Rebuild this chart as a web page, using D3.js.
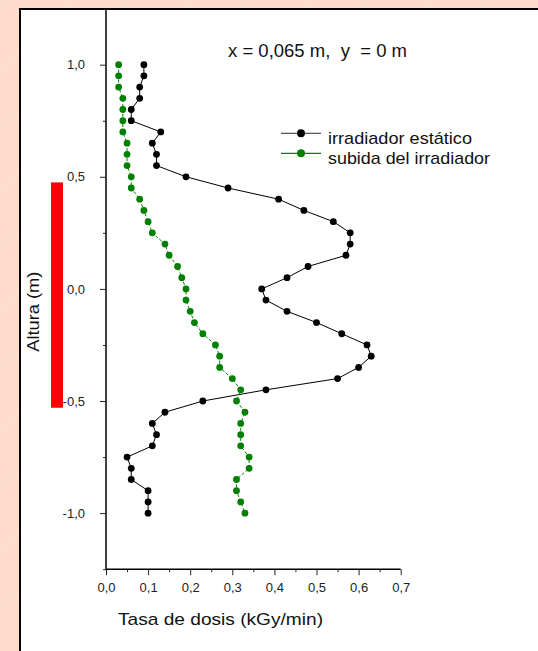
<!DOCTYPE html>
<html>
<head>
<meta charset="utf-8">
<script src="https://cdn.jsdelivr.net/npm/d3@7"></script>
<style>
  html, body { margin: 0; padding: 0; background: #fddccc; }
  svg { display: block; }
  text { font-family: Arial, "Liberation Sans", sans-serif; }
</style>
</head>
<body>
<svg id="chart" width="538" height="651"></svg>
<script>
// ---- data ----
const heights = [1.00,0.95,0.90,0.85,0.80,0.75,0.70,0.65,0.60,0.55,0.50,0.45,0.40,0.35,0.30,0.25,0.20,0.15,0.10,0.05,0.00,
  -0.05,-0.10,-0.15,-0.20,-0.25,-0.30,-0.35,-0.40,-0.45,-0.50,-0.55,-0.60,-0.65,-0.70,-0.75,-0.80,-0.85,-0.90,-0.95,-1.00];
const staticDose = [0.09,0.09,0.08,0.08,0.06,0.06,0.13,0.11,0.12,0.12,0.19,0.29,0.41,0.47,0.54,0.58,0.58,0.57,0.48,0.43,0.37,
  0.38,0.43,0.50,0.56,0.62,0.63,0.60,0.55,0.38,0.23,0.14,0.11,0.12,0.11,0.05,0.06,0.06,0.10,0.10,0.10];
const risingDose = [0.03,0.03,0.03,0.04,0.04,0.04,0.04,0.05,0.05,0.05,0.06,0.06,0.08,0.09,0.10,0.11,0.14,0.15,0.17,0.18,0.19,
  0.19,0.20,0.21,0.23,0.26,0.27,0.27,0.30,0.32,0.31,0.33,0.32,0.32,0.32,0.34,0.34,0.31,0.31,0.32,0.33];
const seriesNames = ["irradiador estático", "subida del irradiador"];
const seriesColors = ["#000000", "#008000"];
const xTicks = [0,0.1,0.2,0.3,0.4,0.5,0.6,0.7];
const xMinorTicks = [0.05,0.15,0.25,0.35,0.45,0.55,0.65];
const yTicks = [-1.0,-0.5,0.0,0.5,1.0];
const yMinorTicks = [-1.25,-0.75,-0.25,0.25,0.75];
const sourceRange = [0.475, -0.53];
const titleText = "x = 0,065 m,  y  = 0 m";
const xTitle = "Tasa de dosis (kGy/min)";
const yTitle = "Altura (m)";

// ---- drawing ----
const svg = d3.select("#chart");
const fmt = v => d3.format(".1f")(v).replace(".", ",").replace("\u2212", "-");

// background texture (faint diagonal lines)
const bg = svg.append("g");
for (let i = -700; i < 700; i += 60) {
  bg.append("line").attr("x1", i).attr("y1", 651).attr("x2", i + 651).attr("y2", 0)
    .attr("stroke", "#fff").attr("stroke-opacity", 0.18).attr("stroke-width", 1);
}

// white panel
svg.append("rect").attr("x", 20).attr("y", 9).attr("width", 530).attr("height", 660)
  .attr("fill", "#fff").attr("stroke", "#000").attr("stroke-width", 2);

const x = d3.scaleLinear().domain([0, 0.7]).range([106, 400.7]);
const y = d3.scaleLinear().domain([-1.25, 1.25]).range([569.2, 8.6]);

// axes
const xAxis = svg.append("g").attr("transform", `translate(0,${y(-1.25)})`)
  .call(d3.axisBottom(x).tickValues(xTicks).tickFormat(fmt).tickSize(6).tickPadding(7.5));
svg.append("g").attr("transform", `translate(0,${y(-1.25)})`)
  .call(d3.axisBottom(x).tickValues(xMinorTicks).tickFormat("").tickSize(3))
  .select(".domain").remove();
const yAxis = svg.append("g").attr("transform", `translate(${x(0)},0)`)
  .call(d3.axisLeft(y).tickValues(yTicks).tickFormat(fmt).tickSize(6).tickPadding(15));
svg.append("g").attr("transform", `translate(${x(0)},0)`)
  .call(d3.axisLeft(y).tickValues(yMinorTicks).tickFormat("").tickSize(3))
  .select(".domain").remove();
svg.selectAll(".domain").attr("stroke", "#000").attr("stroke-width", 1.5);
svg.selectAll(".tick line").attr("stroke", "#222");
svg.selectAll(".tick text").attr("font-size", 13).attr("fill", "#222")
  .attr("font-family", "Arial, 'Liberation Sans', sans-serif");
yAxis.selectAll(".domain").attr("d", `M0,${y(1.25)}V${y(-1.25)}`);
xAxis.selectAll(".domain").attr("d", `M${x(0)},0H${x(0.7)}`);

// red source bar
svg.append("rect").attr("x", 51).attr("y", y(sourceRange[0]))
  .attr("width", 12).attr("height", y(sourceRange[1]) - y(sourceRange[0]))
  .attr("fill", "#ff0000");

// series
const series = [staticDose, risingDose];
series.forEach((vals, i) => {
  const pts = vals.map((v, j) => [v, heights[j]]);
  const line = d3.line().x(d => x(d[0])).y(d => y(d[1]));
  svg.append("path").datum(pts).attr("d", line).attr("fill", "none")
    .attr("stroke", seriesColors[i]).attr("stroke-width", 1)
    .attr("stroke-dasharray", i === 1 ? "3,2" : null);
  svg.append("g").selectAll("circle").data(pts).join("circle")
    .attr("cx", d => x(d[0])).attr("cy", d => y(d[1])).attr("r", 3.4)
    .attr("fill", seriesColors[i]);
});

// legend
const legendY = [133.3, 153.3];
const legendLen = [144, 162];
seriesNames.forEach((name, i) => {
  const g = svg.append("g");
  g.append("line").attr("x1", 281).attr("x2", 321).attr("y1", legendY[i]).attr("y2", legendY[i])
    .attr("stroke", i === 0 ? "#555" : seriesColors[i]).attr("stroke-width", 1.2);
  g.append("circle").attr("cx", 301).attr("cy", legendY[i]).attr("r", 4).attr("fill", seriesColors[i]);
  g.append("text").attr("x", 328).attr("y", legendY[i] + 10.5).attr("font-size", 17)
    .attr("textLength", legendLen[i]).attr("lengthAdjust", "spacingAndGlyphs")
    .attr("fill", "#111").text(name);
});

// title
svg.append("text").attr("x", 228).attr("y", 57).attr("font-size", 17.5)
  .style("white-space", "pre")
  .attr("textLength", 179).attr("lengthAdjust", "spacingAndGlyphs")
  .attr("fill", "#111").text(titleText);

// axis titles
svg.append("text").attr("x", 118).attr("y", 625).attr("font-size", 17)
  .attr("textLength", 205).attr("lengthAdjust", "spacingAndGlyphs")
  .attr("fill", "#111").text(xTitle);
svg.append("text").attr("transform", "translate(39,311.7) rotate(-90)").attr("text-anchor", "middle")
  .attr("font-size", 17).attr("textLength", 80).attr("lengthAdjust", "spacingAndGlyphs")
  .attr("fill", "#111").text(yTitle);
</script>
</body>
</html>
